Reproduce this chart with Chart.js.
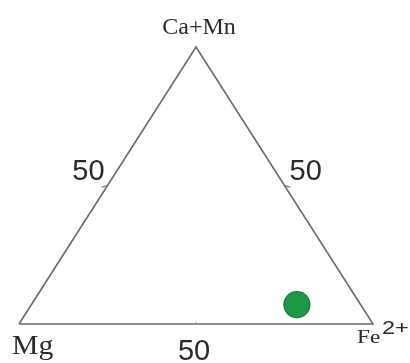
<!DOCTYPE html>
<html>
<head>
<meta charset="utf-8">
<script src="https://cdn.jsdelivr.net/npm/chart.js@4.4.1/dist/chart.umd.min.js"></script>
<style>
  html, body { margin: 0; padding: 0; background: #fff; }
  #wrap { width: 410px; height: 363px; }
</style>
</head>
<body>
<div id="wrap"><canvas id="ternary" width="410" height="363"></canvas></div>
<script>
// Ternary end members (apex, left, right)
var apexLabel = 'Ca+Mn';
var leftLabel = 'Mg';
var rightLabel = 'Fe';
var rightSup = '2+';

// Tick labels along each side (percent)
var tickValues = [50, 50, 50];
var tickLabels = ['50', '50', '50'];

// Sample composition (Ca+Mn, Mg, Fe2+) in percent
var sampleCaMn = [7];
var sampleMg = [18];
var sampleFe = [75];

// ternary -> cartesian: x along Mg..Fe, y up to Ca+Mn
function toXY(ca, mg, fe) {
    var sum = ca + mg + fe;
    ca = ca / sum * 100; fe = fe / sum * 100;
    return { x: fe + ca / 2, y: ca };
}

var frame = [
    toXY(0, 100, 0),
    toXY(0, 0, 100),
    toXY(100, 0, 0),
    toXY(0, 100, 0)
];

// small tick marks at 50 on each side
var tickLeft = [toXY(tickValues[0], 100 - tickValues[0], 0), toXY(49.4, 51.8, -1.2)];
var tickRight = [toXY(tickValues[1], 0, 100 - tickValues[1]), toXY(49.4, -1.2, 51.8)];
var tickBottom = [toXY(0, 100 - tickValues[2], tickValues[2]), toXY(1, 49.5, 49.5)];

var samples = sampleCaMn.map(function(ca, i) {
    return toXY(ca, sampleMg[i], sampleFe[i]);
});

// draw the corner names and the 50 labels next to the triangle
var labelPlugin = {
    id: 'ternaryLabels',
    afterDatasetsDraw: function(chart) {
        var ctx = chart.ctx;
        var xs = chart.scales.x, ys = chart.scales.y;
        function px(p) { return { x: xs.getPixelForValue(p.x), y: ys.getPixelForValue(p.y) }; }
        function txt(s, x, y, font, align, color, stretch) {
            ctx.save();
            ctx.font = font;
            ctx.fillStyle = color;
            ctx.textAlign = align;
            ctx.textBaseline = 'alphabetic';
            ctx.translate(x, y);
            ctx.scale(stretch || 1, 1);
            ctx.fillText(s, 0, 0);
            ctx.restore();
        }
        var top = px(frame[2]), left = px(frame[0]), right = px(frame[1]);
        var serif = '"Liberation Serif", "DejaVu Serif", serif';
        var sans = '"Liberation Sans", Arial, sans-serif';

        txt(apexLabel, top.x + 3, top.y - 13, '24px ' + serif, 'center', '#2a2a2a');
        txt(leftLabel, left.x - 7, left.y + 30, '27px ' + serif, 'left', '#2a2a2a', 1.1);
        txt(rightLabel, right.x - 16, right.y + 19, '19px ' + serif, 'left', '#2a2a2a', 1.22);
        txt(rightSup, right.x + 9, right.y + 10, '18px ' + sans, 'left', '#2a2a2a', 1.3);

        var l = px(tickLeft[0]), r = px(tickRight[0]), b = px(tickBottom[0]);
        txt(tickLabels[0], l.x - 3, l.y - 6, '29px ' + sans, 'right', '#2a2a2a');
        txt(tickLabels[1], r.x + 5, r.y - 6, '29px ' + sans, 'left', '#2a2a2a');
        txt(tickLabels[2], b.x - 2, b.y + 36, '29px ' + sans, 'center', '#2a2a2a');
    }
};

var lineStyle = {
    showLine: true,
    borderColor: '#6b6b6b',
    borderWidth: 1.6,
    pointRadius: 0,
    tension: 0
};

new Chart(document.getElementById('ternary'), {
    type: 'scatter',
    data: {
        datasets: [
            Object.assign({ label: 'frame', data: frame }, lineStyle),
            Object.assign({ label: 'tickL', data: tickLeft }, lineStyle, { borderWidth: 1.2 }),
            Object.assign({ label: 'tickR', data: tickRight }, lineStyle, { borderWidth: 1.2 }),
            Object.assign({ label: 'tickB', data: tickBottom }, lineStyle, { borderWidth: 1, borderColor: '#bbbbbb' }),
            {
                label: 'sample',
                data: samples,
                pointStyle: 'circle',
                pointRadius: 13,
                backgroundColor: '#1b9a45',
                borderColor: '#147a36',
                borderWidth: 1.2
            }
        ]
    },
    options: {
        responsive: false,
        animation: false,
        layout: { padding: 0, autoPadding: false },
        plugins: {
            legend: { display: false },
            tooltip: { enabled: false },
            title: { display: false }
        },
        scales: {
            x: { type: 'linear', display: false, min: -5.37, max: 110.45 },
            y: { type: 'linear', display: false, min: -14.08, max: 116.97 }
        }
    },
    plugins: [labelPlugin]
});
</script>
</body>
</html>
